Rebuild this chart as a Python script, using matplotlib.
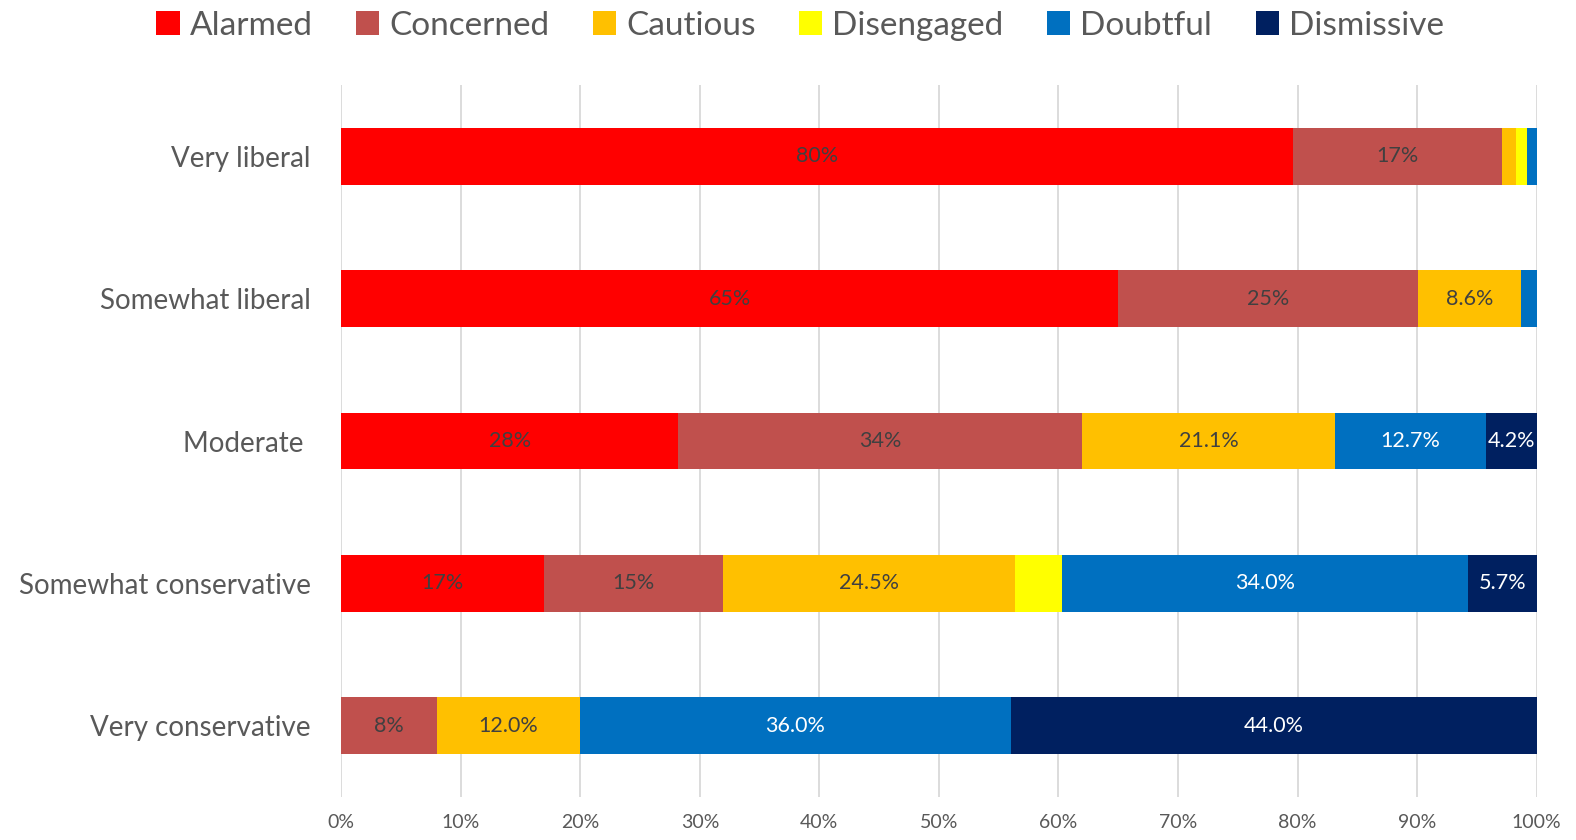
import numpy as np
import matplotlib.pyplot as plt

# data (percent of each group)
groups = ['Very liberal', 'Somewhat liberal', 'Moderate ', 'Somewhat conservative', 'Very conservative']
segments = ['Alarmed', 'Concerned', 'Cautious', 'Disengaged', 'Doubtful', 'Dismissive']
alarmed    = [79.6, 65.0, 28.2, 17.0, 0.0]
concerned  = [17.5, 25.1, 33.8, 14.9, 8.0]
cautious   = [1.2, 8.6, 21.1, 24.5, 12.0]
disengaged = [0.9, 0.0, 0.0, 3.9, 0.0]
doubtful   = [0.8, 1.3, 12.7, 34.0, 36.0]
dismissive = [0.0, 0.0, 4.2, 5.7, 44.0]

# labels as printed on the bars ('' = none)
lab_alarmed    = ['80%', '65%', '28%', '17%', '']
lab_concerned  = ['17%', '25%', '34%', '15%', '8%']
lab_cautious   = ['', '8.6%', '21.1%', '24.5%', '12.0%']
lab_disengaged = ['', '', '', '', '']
lab_doubtful   = ['', '', '12.7%', '34.0%', '36.0%']
lab_dismissive = ['', '', '4.2%', '5.7%', '44.0%']

colors = ['#FF0000', '#C0504D', '#FFC000', '#FFFF00', '#0070C0', '#002060']
text_colors = ['#404040', '#404040', '#404040', '#404040', 'white', 'white']

plt.rcParams['font.family'] = ['Lato', 'DejaVu Sans']

fig = plt.figure(figsize=(15.76, 8.4), dpi=100)
ax = fig.add_axes([0.2165, 0.051, 0.7585, 0.848])

series = [alarmed, concerned, cautious, disengaged, doubtful, dismissive]
labels = [lab_alarmed, lab_concerned, lab_cautious, lab_disengaged, lab_doubtful, lab_dismissive]
y = np.arange(len(groups))
left = np.zeros(len(groups))
for name, vals, labs, c, tc in zip(segments, series, labels, colors, text_colors):
    vals = np.array(vals)
    bars = ax.barh(y, vals, left=left, height=0.4, color=c, label=name, zorder=2)
    ax.bar_label(bars, labels=labs, label_type='center', color=tc, fontsize=15.5)
    left += vals

ax.set_ylim(4.5, -0.5)
ax.set_xlim(0, 100)
ax.set_xticks(np.arange(0, 101, 10))
ax.set_xticklabels([f'{v}%' for v in range(0, 101, 10)], fontsize=14, color='#595959')
ax.tick_params(axis='x', pad=12)
ax.set_yticks(y)
ax.set_yticklabels(groups, fontsize=20, color='#595959')
ax.tick_params(axis='both', length=0)
ax.tick_params(axis='y', pad=22)
ax.grid(axis='x', color='#D9D9D9', linewidth=1.3, zorder=0)
ax.set_axisbelow(True)
for s in ax.spines.values():
    s.set_visible(False)

fig.legend(loc='upper center', bbox_to_anchor=(0.5077, 1.023), ncol=6, frameon=False,
           fontsize=24, handlelength=0.7, handleheight=0.7, handletextpad=0.3,
           columnspacing=1.3, labelcolor='#595959')

plt.savefig('out.png', dpi=100)
